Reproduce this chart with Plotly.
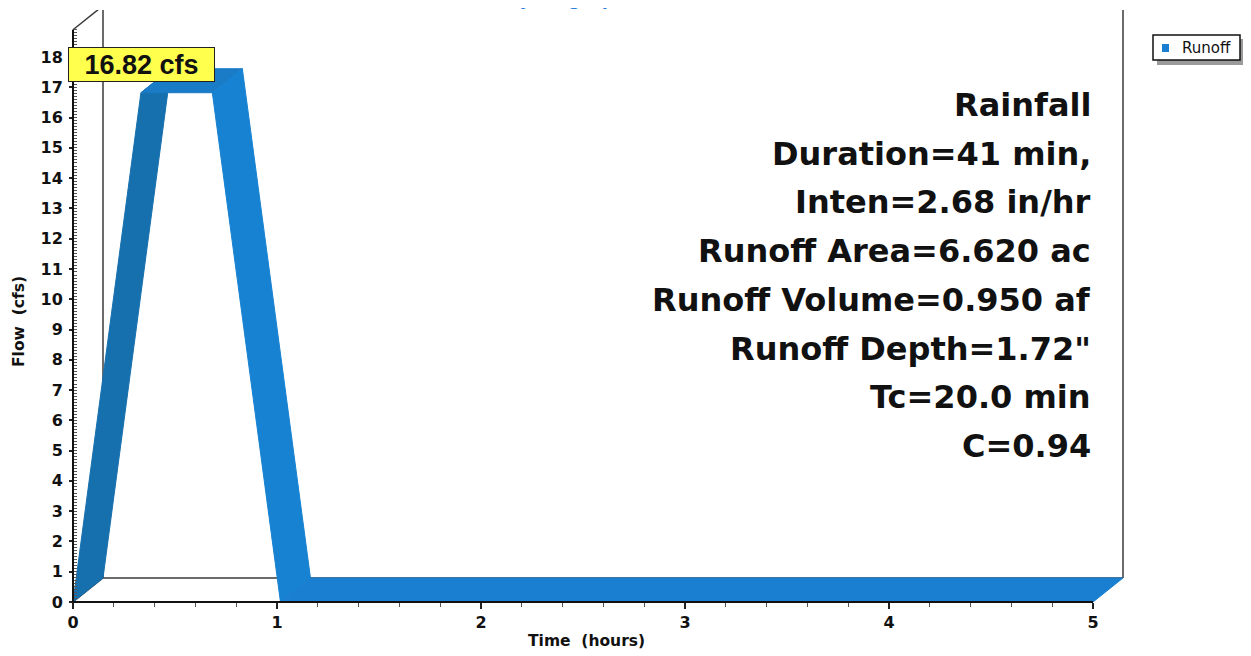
import plotly.graph_objects as go

# ---------------- data ----------------
time_hr = [0.0, 0.333, 0.683, 1.017, 5.0]
flow_cfs = [0.0, 16.82, 16.82, 0.0, 0.0]
series_name = "Runoff"
x_ticks = [0, 1, 2, 3, 4, 5]
x_minor = [round(i * 0.2, 1) for i in range(26)]
y_ticks = list(range(0, 19))
y_minor = [round(i * 0.1, 1) for i in range(190)]
info_lines = ["Rainfall", "Duration=41 min,", "Inten=2.68 in/hr",
              "Runoff Area=6.620 ac", "Runoff Volume=0.950 af",
              'Runoff Depth=1.72"', "Tc=20.0 min", "C=0.94"]
chart_title = "Hydrograph"
x_title = "Time\u00a0 (hours)"
y_title = "Flow\u00a0 (cfs)"

# ---------------- geometry (screen pixels) ----------------
SCREEN_W, SCREEN_H = 1251, 656
OFF = 8                      # page body margin
W, H = SCREEN_W - OFF, SCREEN_H - OFF
ML, MR, MT, MB = 47, 90, 2, 32   # figure margins (figure pixels)
X0_PX, Y0_PX = 73, 602           # origin in screen pixels
PX_PER_HR = 204.0
PX_PER_CFS = 545.0 / 18.0
DEPTH_DX_PX, DEPTH_DY_PX = 30.0, 24.0
plot_w = W - ML - MR
plot_h = H - MT - MB
ox, oy = X0_PX - OFF, Y0_PX - OFF  # origin in figure pixels
xr = [-(ox - ML) / PX_PER_HR, (W - MR - ox) / PX_PER_HR]
yr = [-(H - MB - oy) / PX_PER_CFS, (oy - MT) / PX_PER_CFS]
DX = DEPTH_DX_PX / PX_PER_HR
DY = DEPTH_DY_PX / PX_PER_CFS
Y_TOP = 18.9
X_END = x_ticks[-1]


def pp(sx, sy):
    """screen pixel -> paper coords"""
    fx, fy = sx - OFF, sy - OFF
    return (fx - ML) / plot_w, (H - MB - fy) / plot_h


BOLD_SANS = "Liberation Sans, Arial, sans-serif"
WIDE = "DejaVu Sans, sans-serif"
BLUE = "#1a7fd0"
seg_colors = ["#1670ae", "#1a7bc6", "#1782d2", "#1a7fd0"]

fig = go.Figure()

# ribbon segments (3-D band)
for i in range(len(time_hr) - 1):
    t0, t1 = time_hr[i], time_hr[i + 1]
    f0, f1 = flow_cfs[i], flow_cfs[i + 1]
    c = seg_colors[i % len(seg_colors)]
    fig.add_trace(go.Scatter(
        x=[t0, t1, t1 + DX, t0 + DX, t0],
        y=[f0, f1, f1 + DY, f0 + DY, f0],
        mode="lines", fill="toself", fillcolor=c,
        line=dict(color=c, width=1), name=series_name,
        hoverinfo="skip", showlegend=False))

shapes = []
frame = dict(type="line", xref="x", yref="y", layer="below",
             line=dict(color="#3a3a3a", width=1.5))
# back plane
shapes.append(dict(frame, x0=DX, y0=DY, x1=DX, y1=Y_TOP + DY))
shapes.append(dict(frame, x0=DX, y0=Y_TOP + DY, x1=X_END + DX, y1=Y_TOP + DY))
shapes.append(dict(frame, x0=X_END + DX, y0=DY, x1=X_END + DX, y1=Y_TOP + DY))
shapes.append(dict(frame, x0=DX, y0=DY, x1=X_END + DX, y1=DY))
shapes.append(dict(frame, x0=0, y0=Y_TOP, x1=DX, y1=Y_TOP + DY))
shapes.append(dict(frame, x0=0, y0=0, x1=DX, y1=DY))
# front axes
front = dict(type="line", xref="x", yref="y", layer="above",
             line=dict(color="#111111", width=2))
shapes.append(dict(front, x0=0, y0=0, x1=X_END, y1=0))
shapes.append(dict(front, x0=0, y0=0, x1=0, y1=Y_TOP))


def prect(sx0, sy0, sx1, sy1, **kw):
    a0, b0 = pp(sx0, sy1)
    a1, b1 = pp(sx1, sy0)
    d = dict(type="rect", xref="paper", yref="paper", layer="above",
             x0=a0, y0=b0, x1=a1, y1=b1)
    d.update(kw)
    return d


# legend (box, shadow, swatch)
shapes.append(prect(1157, 39, 1245, 65, fillcolor="#9a9a9a", line=dict(width=0)))
shapes.append(prect(1153, 35, 1240, 60, fillcolor="white",
                    line=dict(color="#111111", width=1.5)))
shapes.append(prect(1162, 44, 1169, 52, fillcolor=BLUE, line=dict(width=0)))

annotations = []
lgx, lgy = pp(1180, 48)
annotations.append(dict(xref="paper", yref="paper", x=lgx, y=lgy,
                        xanchor="left", yanchor="middle", text=series_name,
                        showarrow=False,
                        font=dict(family=WIDE, size=15, color="#111111")))
# info text block
for k, line in enumerate(info_lines):
    ax, ay = pp(1093, 105 + k * 48.7)
    annotations.append(dict(xref="paper", yref="paper", x=ax, y=ay,
                            xanchor="right", yanchor="middle", text=line,
                            showarrow=False,
                            font=dict(family=WIDE, size=32, color="#111111",
                                      weight="bold")))
# peak label
peak = max(flow_cfs)
bx, by = pp(68, 64)
annotations.append(dict(xref="paper", yref="paper", x=bx, y=by,
                        xanchor="left", yanchor="middle",
                        text=f"{peak:.2f} cfs", showarrow=False,
                        bgcolor="#ffff4d", bordercolor="#222222", borderwidth=1,
                        borderpad=1, width=143, height=31,
                        font=dict(family=BOLD_SANS, size=27, color="#111111",
                                  weight="bold")))
# axis titles
tx, ty = pp(586, 641)
annotations.append(dict(xref="paper", yref="paper", x=tx, y=ty,
                        xanchor="center", yanchor="middle", text=x_title,
                        showarrow=False,
                        font=dict(family=WIDE, size=15.5, color="#111111",
                                  weight="bold")))
fx, fy = pp(19, 322)
annotations.append(dict(xref="paper", yref="paper", x=fx, y=fy, textangle=-90,
                        xanchor="center", yanchor="middle", text=y_title,
                        showarrow=False,
                        font=dict(family=WIDE, size=15.5, color="#111111",
                                  weight="bold")))
# title, mostly above the visible page
hx, hy = pp(566, 11)
annotations.append(dict(xref="paper", yref="paper", x=hx, y=hy,
                        xanchor="center", yanchor="bottom", text=chart_title,
                        showarrow=False,
                        font=dict(family=BOLD_SANS, size=22, color="#2a7fdc",
                                  weight="bold")))

tickfont = dict(family=WIDE, size=16, color="#111111", weight="bold")
xpos = (H - MB - oy) / plot_h
ypos = (ox - ML) / plot_w

fig.update_layout(
    width=W, height=H,
    margin=dict(l=ML, r=MR, t=MT, b=MB, autoexpand=False),
    paper_bgcolor="white", plot_bgcolor="white",
    showlegend=False,
    xaxis=dict(range=xr, anchor="free", position=xpos, showgrid=False,
               zeroline=False, showline=False, tickmode="array",
               tickvals=x_ticks, ticktext=[str(v) for v in x_ticks],
               ticks="outside", ticklen=6, tickwidth=2, tickcolor="#222",
               tickfont=tickfont,
               minor=dict(tickmode="array", tickvals=x_minor, ticks="outside",
                          ticklen=4, tickwidth=1, tickcolor="#555"),
               fixedrange=True),
    yaxis=dict(range=yr, anchor="free", position=ypos, showgrid=False,
               zeroline=False, showline=False, tickmode="array",
               tickvals=y_ticks, ticktext=[str(v) for v in y_ticks],
               ticks="outside", ticklen=4, tickwidth=1.5, tickcolor="#222",
               tickfont=tickfont, ticklabelstandoff=3,
               minor=dict(tickmode="array", tickvals=y_minor, ticks="inside",
                          ticklen=3, tickwidth=1, tickcolor="#555"),
               fixedrange=True),
    shapes=shapes, annotations=annotations,
)

fig.write_html("out.html")
